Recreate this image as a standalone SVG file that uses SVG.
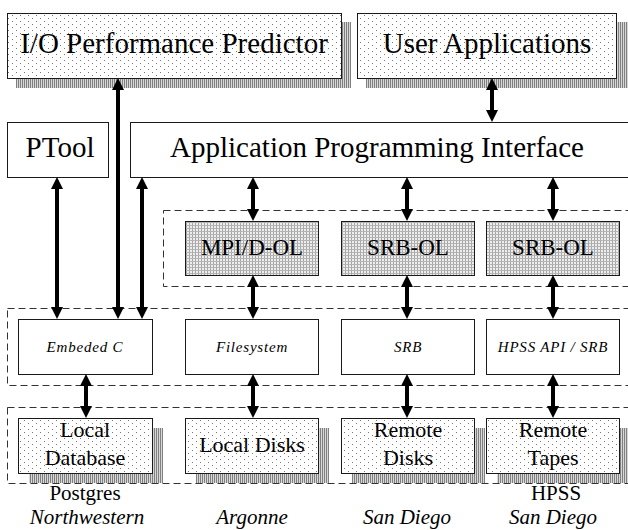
<svg xmlns="http://www.w3.org/2000/svg" width="628" height="530" viewBox="0 0 628 530">
<style>
.box{stroke:#1a1a1a;stroke-width:1}
.plain{fill:#fff}
.dots{fill:url(#dots)}
.grid{fill:url(#grid)}
.shadow{fill:url(#halftone);stroke:none}
.dash{fill:none;stroke:#333;stroke-width:1;stroke-dasharray:7 4}
.conn{stroke:#000;stroke-width:4;fill:none;marker-start:url(#ah);marker-end:url(#ah)}
.big{font-family:"Liberation Serif","Times New Roman",serif;font-size:29px;fill:#000;text-anchor:middle}
.mid{font-family:"Liberation Serif","Times New Roman",serif;font-size:23px;fill:#000;text-anchor:middle}
.it{font-family:"Liberation Serif","Times New Roman",serif;font-style:italic;font-size:15px;fill:#000;text-anchor:middle;letter-spacing:0.8px}
.lab{font-family:"Liberation Serif","Times New Roman",serif;font-size:22px;fill:#000;text-anchor:middle}
.site{font-family:"Liberation Serif","Times New Roman",serif;font-size:21px;fill:#000;text-anchor:middle}
.sitei{font-family:"Liberation Serif","Times New Roman",serif;font-style:italic;font-size:21px;fill:#000;text-anchor:middle}
</style>
<defs>
<pattern id="dots" width="8" height="6" patternUnits="userSpaceOnUse">
<rect width="8" height="6" fill="#fff"/>
<rect x="0" y="0" width="1" height="1" fill="#777"/>
<rect x="4" y="3" width="1" height="1" fill="#777"/>
</pattern>
<pattern id="grid" width="3" height="3" patternUnits="userSpaceOnUse">
<rect width="3" height="3" fill="#eeeeee"/>
<rect x="0" y="0" width="1" height="3" fill="#a6a6a6"/>
<rect x="0" y="0" width="3" height="1" fill="#b4b4b4"/>
</pattern>
<pattern id="halftone" width="2" height="2" patternUnits="userSpaceOnUse">
<rect width="2" height="2" fill="#d8d8d8"/>
<rect x="0" y="0" width="1" height="2" fill="#808080"/>
</pattern>
<marker id="ah" viewBox="0 0 12 12" refX="1" refY="6" markerWidth="12" markerHeight="12" markerUnits="userSpaceOnUse" orient="auto-start-reverse">
<path d="M0,0 L12,6 L0,12 z" fill="#000"/>
</marker>
</defs>

<rect width="628" height="530" fill="#fff"/>

<g id="frames">
<rect class="dash" x="163.5" y="210.5" width="470" height="76"/>
<rect class="dash" x="7.5" y="308.5" width="626" height="77"/>
<rect class="dash" x="7.5" y="407.5" width="626" height="76"/>
</g>

<g id="io-predictor">
<rect class="shadow" x="16" y="22" width="335" height="66"/>
<rect class="box dots" x="7.5" y="13.5" width="334" height="65"/>
<text class="big" x="174" y="53" font-size="30">I/O Performance Predictor</text>
</g>

<g id="user-applications">
<rect class="shadow" x="366" y="22" width="270" height="66"/>
<rect class="box dots" x="357.5" y="13.5" width="259" height="65"/>
<text class="big" x="487" y="53">User Applications</text>
</g>

<g id="ptool">
<rect class="box plain" x="7.5" y="122.5" width="101" height="55"/>
<text class="big" x="60" y="157">PTool</text>
</g>

<g id="api">
<rect class="box plain" x="130.5" y="122.5" width="510" height="55"/>
<text class="big" x="377" y="157">Application Programming Interface</text>
</g>

<g id="mpi-dol">
<rect class="box grid" x="185.5" y="221.5" width="133" height="54"/>
<text class="mid" x="252" y="255">MPI/D-OL</text>
</g>
<g id="srb-ol-1">
<rect class="box grid" x="341.5" y="221.5" width="133" height="54"/>
<text class="mid" x="408" y="255">SRB-OL</text>
</g>
<g id="srb-ol-2">
<rect class="box grid" x="486.5" y="221.5" width="133" height="54"/>
<text class="mid" x="553" y="255">SRB-OL</text>
</g>

<g id="embeded-c">
<rect class="box plain" x="18.5" y="319.5" width="134" height="55"/>
<text class="it" x="85" y="352">Embeded C</text>
</g>
<g id="filesystem">
<rect class="box plain" x="185.5" y="319.5" width="133" height="55"/>
<text class="it" x="252" y="352">Filesystem</text>
</g>
<g id="srb">
<rect class="box plain" x="341.5" y="319.5" width="133" height="55"/>
<text class="it" x="408" y="352">SRB</text>
</g>
<g id="hpss-api-srb">
<rect class="box plain" x="486.5" y="319.5" width="133" height="55"/>
<text class="it" x="553" y="352">HPSS API / SRB</text>
</g>

<g id="local-database">
<rect class="shadow" x="29" y="428" width="134" height="55"/>
<rect class="box dots" x="18.5" y="418.5" width="134" height="55"/>
<text class="lab" x="85" y="437">Local</text>
<text class="lab" x="85" y="465">Database</text>
</g>
<g id="local-disks">
<rect class="shadow" x="196" y="428" width="133" height="55"/>
<rect class="box dots" x="185.5" y="418.5" width="133" height="55"/>
<text class="lab" x="252" y="452">Local Disks</text>
</g>
<g id="remote-disks">
<rect class="shadow" x="352" y="428" width="133" height="55"/>
<rect class="box dots" x="341.5" y="418.5" width="133" height="55"/>
<text class="lab" x="408" y="437">Remote</text>
<text class="lab" x="408" y="465">Disks</text>
</g>
<g id="remote-tapes">
<rect class="shadow" x="497" y="428" width="133" height="55"/>
<rect class="box dots" x="486.5" y="418.5" width="133" height="55"/>
<text class="lab" x="553" y="437">Remote</text>
<text class="lab" x="553" y="465">Tapes</text>
</g>

<g id="site-labels">
<text class="site" x="85" y="500">Postgres</text>
<text class="sitei" x="87" y="524">Northwestern</text>
<text class="sitei" x="252" y="524">Argonne</text>
<text class="sitei" x="407" y="524">San Diego</text>
<text class="site" x="556" y="500">HPSS</text>
<text class="sitei" x="553" y="524">San Diego</text>
</g>

<g id="connectors">
<line class="conn" x1="57" y1="188" x2="57" y2="308"/>
<line class="conn" x1="118" y1="89" x2="118" y2="308"/>
<line class="conn" x1="142" y1="188" x2="142" y2="308"/>
<line class="conn" x1="492" y1="89" x2="492" y2="111"/>
<line class="conn" x1="253" y1="188" x2="253" y2="210"/>
<line class="conn" x1="407" y1="188" x2="407" y2="210"/>
<line class="conn" x1="553" y1="188" x2="553" y2="210"/>
<line class="conn" x1="253" y1="286" x2="253" y2="308"/>
<line class="conn" x1="407" y1="286" x2="407" y2="308"/>
<line class="conn" x1="553" y1="286" x2="553" y2="308"/>
<line class="conn" x1="86" y1="385" x2="86" y2="407"/>
<line class="conn" x1="253" y1="385" x2="253" y2="407"/>
<line class="conn" x1="407" y1="385" x2="407" y2="407"/>
<line class="conn" x1="553" y1="385" x2="553" y2="407"/>
</g>
</svg>
